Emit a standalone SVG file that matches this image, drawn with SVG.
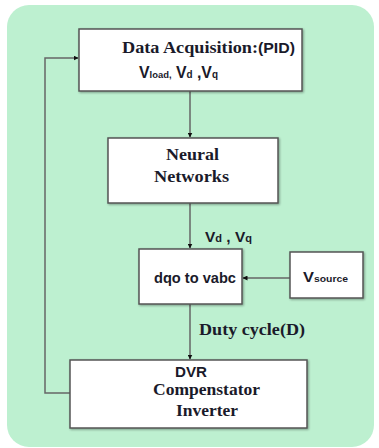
<svg xmlns="http://www.w3.org/2000/svg" width="379" height="448" viewBox="0 0 379 448">
<defs>
<marker id="ah" viewBox="0 0 10 10" refX="9" refY="5" markerWidth="5" markerHeight="5" orient="auto" markerUnits="userSpaceOnUse">
<path d="M0,0 L10,5 L0,10 z" fill="#111"/>
</marker>
<filter id="sh" x="-5%" y="-5%" width="110%" height="115%">
<feDropShadow dx="1" dy="1" stdDeviation="0.8" flood-color="#000" flood-opacity="0.35"/>
</filter>
</defs>
<style>
.box{fill:#fff;stroke:#555;stroke-width:1.5;filter:url(#sh)}
.ln{fill:none;stroke:#666;stroke-width:1.5}
.ser{font-family:"Liberation Serif","Times New Roman",serif;font-weight:bold;fill:#1a1a2a}
.san{font-family:"Liberation Sans",Arial,sans-serif;font-weight:bold;fill:#1a1a2a}
</style>
<rect x="7" y="5" width="367" height="442" rx="22" ry="22" fill="#bdf0d0"/>
<g id="connectors">
<line class="ln" x1="190" y1="91" x2="190" y2="137" marker-end="url(#ah)"/>
<line class="ln" x1="190" y1="203" x2="190" y2="248" marker-end="url(#ah)"/>
<line class="ln" x1="290" y1="278" x2="243" y2="278" marker-end="url(#ah)"/>
<line class="ln" x1="190" y1="304" x2="190" y2="359" marker-end="url(#ah)"/>
<polyline class="ln" points="70,393 45,393 45,58 78,58" marker-end="url(#ah)"/>
<text class="san" x="205" y="242" font-size="14" textLength="47" lengthAdjust="spacingAndGlyphs">V<tspan font-size="10">d</tspan> , V<tspan font-size="10">q</tspan></text>
<text class="ser" x="199" y="335" font-size="17" textLength="106" lengthAdjust="spacingAndGlyphs">Duty cycle(D)</text>
</g>
<g id="data-acquisition">
<rect class="box" x="79" y="29" width="223" height="62"/>
<text class="ser" x="122" y="53" font-size="17" textLength="136" lengthAdjust="spacingAndGlyphs">Data Acquisition:</text>
<text class="san" x="258" y="53" font-size="14" textLength="37" lengthAdjust="spacingAndGlyphs">(PID)</text>
<text class="san" x="139" y="78" font-size="16" textLength="79" lengthAdjust="spacingAndGlyphs">V<tspan font-size="9.5">load,</tspan> V<tspan font-size="10">d</tspan> ,V<tspan font-size="10">q</tspan></text>
</g>
<g id="neural-networks">
<rect class="box" x="108" y="138" width="170" height="65"/>
<text class="ser" x="166" y="160" font-size="17.5" textLength="53" lengthAdjust="spacingAndGlyphs">Neural</text>
<text class="ser" x="154" y="182" font-size="17.5" textLength="75" lengthAdjust="spacingAndGlyphs">Networks</text>
</g>
<g id="dqo-to-vabc">
<rect class="box" x="139" y="249" width="103" height="55"/>
<text class="san" x="154" y="283" font-size="15" textLength="82" lengthAdjust="spacingAndGlyphs">dqo to vabc</text>
</g>
<g id="vsource">
<rect class="box" x="290" y="252" width="73" height="46"/>
<text class="san" x="303" y="282" font-size="15" textLength="45" lengthAdjust="spacingAndGlyphs">V<tspan font-size="9.5">source</tspan></text>
</g>
<g id="dvr">
<rect class="box" x="70" y="360" width="237" height="68"/>
<text class="san" x="175" y="377" font-size="15" textLength="32" lengthAdjust="spacingAndGlyphs">DVR</text>
<text class="ser" x="153" y="395" font-size="17.5" textLength="107" lengthAdjust="spacingAndGlyphs">Compenstator</text>
<text class="ser" x="176" y="416" font-size="17.5" textLength="62" lengthAdjust="spacingAndGlyphs">Inverter</text>
</g>
</svg>
